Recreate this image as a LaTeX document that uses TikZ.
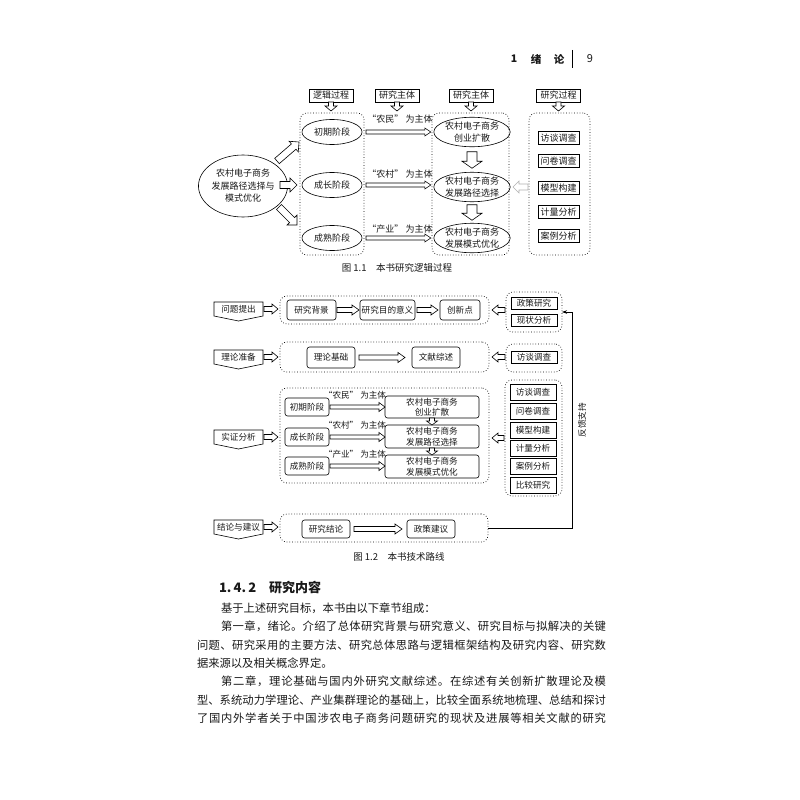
\documentclass[tikz,border=0pt]{standalone}
\usepackage{fontspec}
\setmainfont{Noto Sans CJK SC}
\usetikzlibrary{calc,shapes.geometric,arrows.meta}
\newcommand\spreadtxt[1]{\spreadA#1\relax}
\def\spreadA#1{#1\spreadB}
\def\spreadB#1{\ifx\relax#1\else\hskip0pt plus 1fil\relax#1\expandafter\spreadB\fi}
\newcommand\barrow[6][]{%
  \coordinate (ba-a) at (#2);
  \coordinate (ba-b) at (#3);
  \coordinate (ba-h) at ($(ba-b)!#6!(ba-a)$);
  \draw[barr,#1] ($(ba-a)!#4!90:(ba-b)$) -- ($(ba-h)!#4!90:(ba-b)$) -- ($(ba-h)!#5!90:(ba-b)$) -- (ba-b) -- ($(ba-h)!#5!-90:(ba-b)$) -- ($(ba-h)!#4!-90:(ba-b)$) -- ($(ba-a)!#4!-90:(ba-b)$) -- cycle;
}
\tikzset{
  every node/.style={inner sep=0pt,outer sep=0pt,text=black!90},
  ft/.style={font=\fontsize{9}{12.5}\selectfont},
  fs/.style={font=\fontsize{8.6}{10.5}\selectfont},
  hdr/.style={draw,line width=0.6pt,minimum width=44pt,minimum height=13pt,ft},
  dbox/.style={draw,dotted,line width=0.7pt,rounded corners=7pt},
  ell/.style={draw,ellipse,line width=0.6pt,ft,align=center},
  mbox/.style={draw,line width=1pt,minimum width=41pt,minimum height=13pt,ft},
  mboxb/.style={draw,line width=1pt,minimum width=46pt,minimum height=12pt,fs},
  barr/.style={draw,line width=0.6pt,fill=white},
  rbox/.style={draw,rounded corners=2.5pt,line width=0.6pt,fs,align=center},
  lbl/.style={minimum width=49pt,minimum height=14pt,fs},
  pent/.style={draw,line width=0.6pt},
  body/.style={font=\fontsize{11.3}{14}\selectfont,anchor=west},
  capt/.style={font=\fontsize{9.5}{11}\selectfont},
}
\begin{document}
\begin{tikzpicture}[x=1pt,y=-1pt]
\useasboundingbox (0,0) rectangle (800,800);
\fill[white] (0,0) rectangle (800,800);

% page header
\node[font=\bfseries\fontsize{10.5}{12}\selectfont] (pg1) at (514,59) {1};
\node[font=\bfseries\fontsize{10.5}{12}\selectfont] (pg2) at (536,59) {绪};
\node[font=\bfseries\fontsize{10.5}{12}\selectfont] (pg3) at (559,59) {论};
\coordinate (bar1) at (572,50);
\coordinate (bar2) at (572,68);
\draw[line width=0.8pt] (bar1) -- (bar2);
\node[font=\fontsize{11}{12}\selectfont] (pg4) at (590,59) {9};

% ================= Figure 1.1 =================
\node[hdr] (h1) at (331,95.5) {逻辑过程};
\node[hdr] (h2) at (397,95.5) {研究主体};
\node[hdr] (h3) at (471,95.5) {研究主体};
\node[hdr] (h4) at (558.5,95.5) {研究过程};
\foreach \h in {h1,h2,h3,h4} {\barrow{\h.south}{$(\h.south)+(0,9)$}{2.5pt}{6pt}{5pt}}

\node[dbox,minimum width=64pt,minimum height=142pt] (d1) at (332,184) {};
\node[dbox,minimum width=77pt,minimum height=142pt] (d2) at (470.5,184) {};
\node[dbox,minimum width=61pt,minimum height=142pt] (d3) at (559.5,184) {};

\node[ell,minimum width=72pt,minimum height=62pt] (e0) at (243,186) {农村电子商务\\发展路径选择与\\模式优化};

\node[ell,minimum width=60pt,minimum height=25pt] (s1) at (332,132) {初期阶段};
\node[ell,minimum width=60pt,minimum height=25pt] (s2) at (332,185) {成长阶段};
\node[ell,minimum width=60pt,minimum height=25pt] (s3) at (332,238) {成熟阶段};

\node[ell,minimum width=70pt,minimum height=28pt] (m1) at (472,132) {农村电子商务\\创业扩散};
\node[ell,minimum width=70pt,minimum height=28pt] (m2) at (472,187) {农村电子商务\\发展路径选择};
\node[ell,minimum width=70pt,minimum height=28pt] (m3) at (472,238) {农村电子商务\\发展模式优化};

\node[ft] (t1) at (400,119) {“农民” 为主体};
\node[ft] (t2) at (400,174) {“农村” 为主体};
\node[ft] (t3) at (400,229) {“产业” 为主体};

\barrow{$(s1.east)+(4,0)$}{$(m1.west)+(-3,0)$}{2pt}{4pt}{6pt}
\barrow{$(s2.east)+(4,0)$}{$(m2.west |- s2.east)+(-3,0)$}{2pt}{4pt}{6pt}
\barrow{$(s3.east)+(4,0)$}{$(m3.west)+(-3,0)$}{2pt}{4pt}{6pt}

\coordinate (a1s) at (277,161); \coordinate (a1e) at (299,142);
\coordinate (a2s) at (280,185); \coordinate (a2e) at (297,185);
\coordinate (a3s) at (279,207); \coordinate (a3e) at (297,225);
\barrow{a1s}{a1e}{3.5pt}{7pt}{7pt}
\barrow{a2s}{a2e}{3.5pt}{7pt}{7pt}
\barrow{a3s}{a3e}{3.5pt}{7pt}{7pt}

\barrow{$(m1.south)+(0,5)$}{$(m2.north)+(0,-4)$}{5pt}{10pt}{7pt}
\barrow{$(m2.south)+(0,3)$}{$(m3.north)+(0,-3)$}{5pt}{10pt}{7pt}

\barrow[draw=gray!60]{$(d3.west)+(-1,3)$}{$(d2.east)+(4,3)$}{3pt}{6pt}{6pt}

\node[mbox] (p1) at (558.5,138) {访谈调查};
\node[mbox] (p2) at (558.5,161) {问卷调查};
\node[mbox] (p3) at (558.5,188) {模型构建};
\node[mbox] (p4) at (558.5,212) {计量分析};
\node[mbox] (p5) at (558.5,236) {案例分析};

\node[capt] (c1) at (397,268) {图 1.1\quad 本书研究逻辑过程};

% ================= Figure 1.2 =================
\node[lbl] (l1) at (238.5,309) {问题提出};
\node[lbl] (l2) at (238.5,357) {理论准备};
\node[lbl] (l3) at (238.5,437) {实证分析};
\node[lbl] (l4) at (238.5,527) {结论与建议};
\foreach \l in {l1,l2,l3,l4} {\draw[pent] (\l.north west) -- (\l.north east) -- (\l.south east) -- ($(\l.south)+(0,5)$) -- (\l.south west) -- cycle;}

\node[dbox,minimum width=209pt,minimum height=28pt] (b1) at (384.5,310) {};
\node[dbox,minimum width=209pt,minimum height=30pt] (b2) at (384.5,357) {};
\node[dbox,minimum width=209pt,minimum height=95pt] (b3) at (384.5,435.5) {};
\node[dbox,minimum width=208pt,minimum height=28pt] (b4) at (384,528) {};

\foreach \l/\b in {l1/b1,l2/b2,l3/b3,l4/b4} {\barrow{$(\l.east)+(1,0)$}{$(\l.east -| \b.west)+(-2,0)$}{2.5pt}{5pt}{6pt}}

% row 1
\node[rbox,minimum width=49pt,minimum height=20pt] (r11) at (311.5,310) {研究背景};
\node[rbox,minimum width=55pt,minimum height=20pt] (r12) at (387.5,310) {研究目的意义};
\node[rbox,minimum width=40pt,minimum height=20pt] (r13) at (460,310) {创新点};
\barrow{$(r11.east)+(1,0)$}{$(r12.west)+(-1,0)$}{2.5pt}{5pt}{7pt}
\barrow{$(r12.east)+(2,0)$}{$(r13.west)+(-2,0)$}{2.5pt}{5pt}{7pt}

\node[dbox,minimum width=56pt,minimum height=40pt] (R1) at (534,312) {};
\node[mboxb] (q11) at (534,303.5) {政策研究};
\node[mboxb] (q12) at (534,320) {现状分析};

% row 2
\node[rbox,minimum width=48pt,minimum height=21pt] (r21) at (331,357.5) {理论基础};
\node[rbox,minimum width=48pt,minimum height=21pt] (r22) at (436,357.5) {文献综述};
\barrow{$(r21.east)+(4,0)$}{$(r22.west)+(-7,0)$}{2.5pt}{5pt}{7pt}

\node[dbox,minimum width=56pt,minimum height=28pt] (R2) at (534,358) {};
\node[mboxb] (q21) at (534,357.5) {访谈调查};

% row 3
\node[rbox,minimum width=44pt,minimum height=18pt] (g1) at (307,407) {初期阶段};
\node[rbox,minimum width=44pt,minimum height=18pt] (g2) at (307,437) {成长阶段};
\node[rbox,minimum width=44pt,minimum height=18pt] (g3) at (307,466) {成熟阶段};
\node[fs] (t4) at (355,395) {“农民” 为主体};
\node[fs] (t5) at (355,425) {“农村” 为主体};
\node[fs] (t6) at (355,454) {“产业” 为主体};
\node[rbox,minimum width=94pt,minimum height=22pt] (k1) at (432,407) {农村电子商务\\创业扩散};
\node[rbox,minimum width=94pt,minimum height=23pt] (k2) at (432,436.5) {农村电子商务\\发展路径选择};
\node[rbox,minimum width=94pt,minimum height=23pt] (k3) at (432,466.5) {农村电子商务\\发展模式优化};
\barrow{$(g1.east)+(1,0)$}{$(g1.east -| k1.west)$}{2pt}{4.5pt}{6pt}
\barrow{$(g2.east)+(1,0)$}{$(g2.east -| k2.west)$}{2pt}{4.5pt}{6pt}
\barrow{$(g3.east)+(1,0)$}{$(g3.east -| k3.west)$}{2pt}{4.5pt}{6pt}
\barrow{k1.south}{k2.north}{2.5pt}{5.5pt}{4pt}
\barrow{k2.south}{k3.north}{2.5pt}{5.5pt}{4pt}

\node[dbox,minimum width=57pt,minimum height=116pt] (R3) at (533.5,438) {};
\node[mboxb,minimum height=16pt] (u1) at (533,392) {访谈调查};
\node[mboxb,minimum height=16pt] (u2) at (533,411) {问卷调查};
\node[mboxb,minimum height=16pt] (u3) at (533,430) {模型构建};
\node[mboxb,minimum height=16pt] (u4) at (533,448.5) {计量分析};
\node[mboxb,minimum height=16pt] (u5) at (533,466.5) {案例分析};
\node[mboxb,minimum height=16pt] (u6) at (533,485) {比较研究};

\barrow{$(b1.east -| R1.west)+(-1,0)$}{$(b1.east)+(3,0)$}{2.5pt}{5pt}{6pt}
\barrow{$(b2.east -| R2.west)+(-1,0)$}{$(b2.east)+(3,0)$}{2.5pt}{5pt}{6pt}
\barrow{$(b3.east -| R3.west)+(-1,2.5)$}{$(b3.east)+(3,2.5)$}{2.5pt}{5pt}{6pt}

% row 4
\node[rbox,minimum width=48pt,minimum height=18pt] (rb1) at (326,529) {研究结论};
\node[rbox,minimum width=48pt,minimum height=18pt] (rb2) at (431,529) {政策建议};
\barrow{$(rb1.east)+(4,0)$}{$(rb2.west)+(-5,0)$}{2.5pt}{5pt}{7pt}

% feedback
\coordinate (fb1) at (572,528);
\coordinate (fb2) at (572,312);
\draw[line width=0.7pt,-{Stealth[length=5pt,width=3.5pt]}] (b4.east) -- (b4.east -| fb1) -- (fb2) -- (R1.east |- fb2);
\node[fs,rotate=90] (fbt) at (582,420) {反馈支持};

\node[capt] (c2) at (399,557) {图 1.2\quad 本书技术路线};

% ================= body text =================
\node[anchor=west,font=\bfseries\fontsize{13}{15}\selectfont] (hd) at (219,588) {1.\,4.\,2\hspace{13pt}研究内容};
\node[body] (L1) at (221,608) {基于上述研究目标，本书由以下章节组成：};
\node[body] (L2) at (221,626.5) {\makebox[385pt][s]{\spreadtxt{第一章，绪论。介绍了总体研究背景与研究意义、研究目标与拟解决的关键}}};
\node[body] (L3) at (197,644.8) {\makebox[409pt][s]{\spreadtxt{问题、研究采用的主要方法、研究总体思路与逻辑框架结构及研究内容、研究数}}};
\node[body] (L4) at (197,663.1) {据来源以及相关概念界定。};
\node[body] (L5) at (221,681.4) {\makebox[385pt][s]{\spreadtxt{第二章，理论基础与国内外研究文献综述。在综述有关创新扩散理论及模}}};
\node[body] (L6) at (197,699.9) {\makebox[409pt][s]{\spreadtxt{型、系统动力学理论、产业集群理论的基础上，比较全面系统地梳理、总结和探讨}}};
\node[body] (L7) at (197,718.3) {\makebox[409pt][s]{\spreadtxt{了国内外学者关于中国涉农电子商务问题研究的现状及进展等相关文献的研究}}};
\end{tikzpicture}
\end{document}
